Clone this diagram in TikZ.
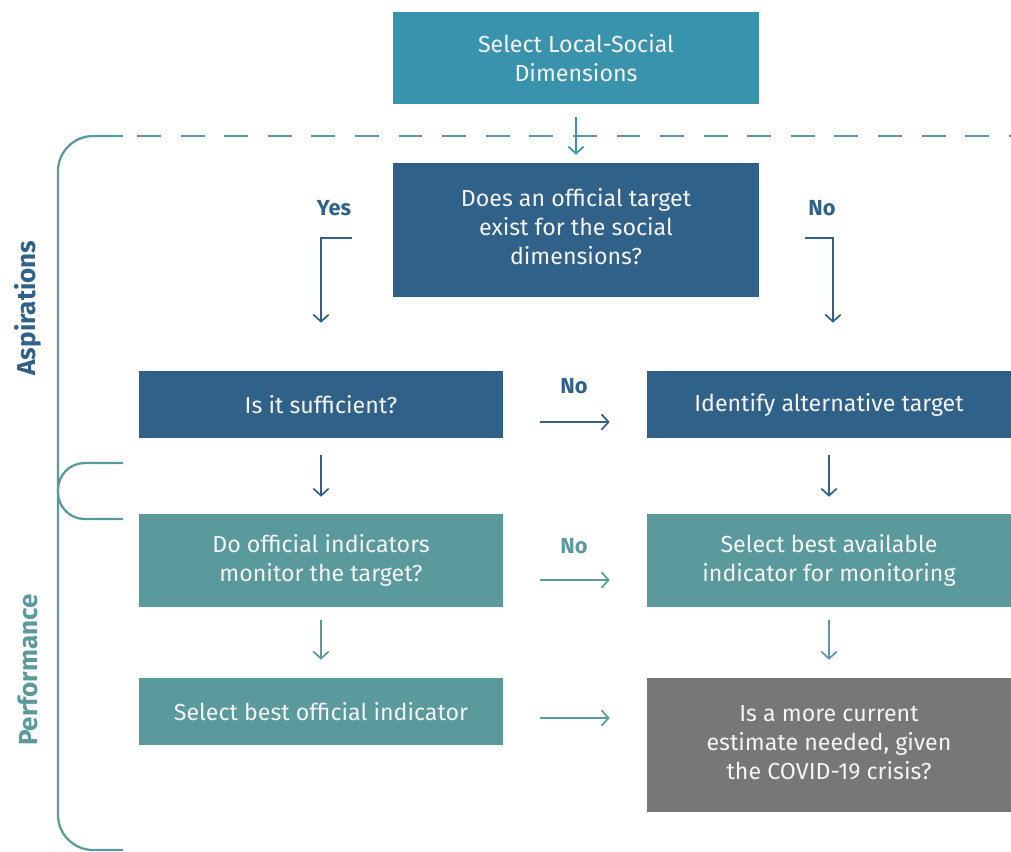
\documentclass[tikz,border=0pt]{standalone}
\usepackage{fontspec}
\setmainfont{Fira Sans}
\usetikzlibrary{calc,arrows.meta}
\definecolor{topteal}{HTML}{3A93AD}
\definecolor{darkblue}{HTML}{2F6189}
\definecolor{midteal}{HTML}{5A9A9C}
\definecolor{boxgray}{HTML}{77777A}
\tikzset{
  box/.style={text=white!92!gray, align=center, inner sep=0pt, font=\fontsize{16.5}{20.5}\selectfont},
  arr/.style={line width=1.2pt, -{Straight Barb[length=5pt,width=11pt]}},
  lab/.style={font=\fontsize{15.5}{17}\selectfont\bfseries},
  side/.style={rotate=90, font=\fontsize{18.5}{20}\selectfont\bfseries},
  bracket/.style={midteal, line width=1.6pt},
}

\begin{document}
\begin{tikzpicture}[x=0.025cm, y=-0.025cm]
\useasboundingbox (0,0) rectangle (1011,851);

% brackets on the left
\draw[bracket, rounded corners=25pt] (123,850) -- (58,850) -- (58,136) -- (123,136);
\draw[bracket, dash pattern=on 17pt off 14pt] (137,136) -- (1011,136);
\draw[bracket, rounded corners=19pt] (123,463) -- (58,463) -- (58,519) -- (123,519);
\node[side, text=darkblue] (asp) at (28,308) {Aspirations};
\node[side, text=midteal] (perf) at (28,670) {Performance};

% boxes
\node[box, fill=topteal, minimum width=9.15cm, minimum height=2.3cm] (dims) at (576,58) {Select Local-Social\\Dimensions};
\node[box, fill=darkblue, minimum width=9.15cm, minimum height=3.35cm] (exist) at (576,230) {\raisebox{2pt}{\begin{tabular}{@{}c@{}}Does an official target\\exist for the social\\dimensions?\end{tabular}}};
\node[box, fill=darkblue, minimum width=9.1cm, minimum height=1.675cm] (suff) at (321,404.5) {Is it sufficient?};
\node[box, fill=darkblue, minimum width=9.1cm, minimum height=1.675cm] (alt) at (829,404.5) {Identify alternative target};
\node[box, fill=midteal, minimum width=9.1cm, minimum height=2.325cm] (monit) at (321,560.5) {Do official indicators\\monitor the target?};
\node[box, fill=midteal, minimum width=9.1cm, minimum height=2.325cm] (avail) at (829,560.5) {Select best available\\indicator for monitoring};
\node[box, fill=midteal, minimum width=9.1cm, minimum height=1.675cm] (best) at (321,711.5) {Select best official indicator};
\node[box, fill=boxgray, minimum width=9.1cm, minimum height=3.35cm] (covid) at (829,745) {\raisebox{3pt}{\begin{tabular}{@{}c@{}}Is a more current\\estimate needed, given\\the COVID-19 crisis?\end{tabular}}};

% arrows
\draw[arr, topteal] ($(dims.south)+(0,13)$) -- ($(exist.north)+(0,-8)$);
\draw[arr, darkblue] ($(exist.west)+(-41,8)$) -| ($(suff.north)+(0,-48)$);
\draw[arr, darkblue] ($(exist.east)+(46,8)$) -| ($(alt.north)+(4,-48)$);
\node[lab, text=darkblue] (yes) at (334,208) {Yes};
\node[lab, text=darkblue] (no1) at (822,208) {No};

\draw[arr, darkblue] ($(suff.east)+(37,17.5)$) -- ($(alt.west)+(-37,17.5)$);
\node[lab, text=darkblue] (no2) at (574,386) {No};
\draw[arr, darkblue] ($(suff.south)+(0,17)$) -- ($(monit.north)+(0,-17)$);
\draw[arr, darkblue] ($(alt.south)+(0,17)$) -- ($(avail.north)+(0,-17)$);

\draw[arr, midteal] ($(monit.east)+(37,19.5)$) -- ($(avail.west)+(-37,19.5)$);
\node[lab, text=midteal] (no3) at (574,546) {No};
\draw[arr, midteal] ($(monit.south)+(0,13)$) -- ($(best.north)+(0,-18)$);
\draw[arr, midteal] ($(avail.south)+(0,13)$) -- ($(covid.north)+(0,-18)$);
\draw[arr, midteal] ($(best.east)+(37,6.5)$) -- ($(covid.west |- best.east)+(-37,6.5)$);
\end{tikzpicture}
\end{document}
